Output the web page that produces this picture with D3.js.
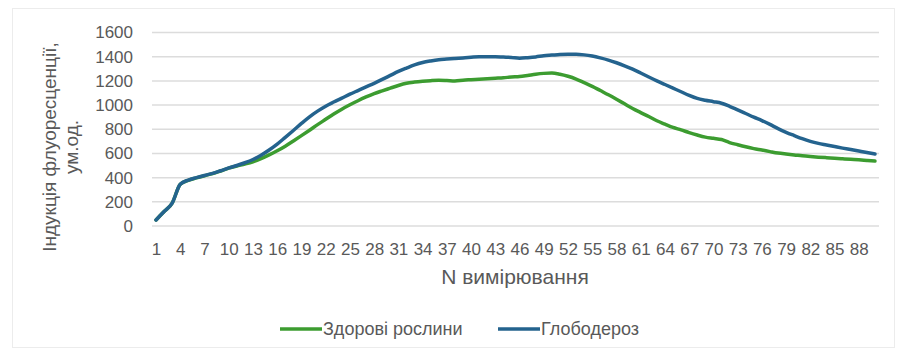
<!DOCTYPE html>
<html>
<head>
<meta charset="utf-8">
<script src="https://cdn.jsdelivr.net/npm/d3@7"></script>
<style>
  body { margin: 0; background: #fff; }
  text { font-family: "Liberation Sans", Arial, sans-serif; fill: #595959; }
</style>
</head>
<body>
<div id="line_chart"></div>
<script>
// measurement numbers 1..90
var measurements = d3.range(1, 91)

// values
var healthy = [50, 120, 190, 345, 378, 398, 416, 433, 455, 478,
  496, 512, 531, 557, 588, 622, 660, 703, 747, 792,
  838, 882, 926, 966, 1002, 1036, 1067, 1095, 1118, 1140,
  1162, 1180, 1190, 1197, 1202, 1205, 1203, 1200, 1206, 1210,
  1214, 1218, 1222, 1226, 1232, 1236, 1245, 1255, 1262, 1265,
  1255, 1238, 1215, 1185, 1155, 1120, 1085, 1048, 1010, 972,
  938, 905, 870, 842, 815, 795, 772, 752, 735, 725,
  715, 690, 672, 655, 640, 628, 615, 603, 595, 588,
  580, 574, 569, 565, 561, 556, 551, 547, 542, 537]

var globodera = [50, 120, 190, 345, 380, 400, 418, 435, 457, 480,
  500, 523, 550, 585, 628, 677, 733, 790, 848, 903,
  950, 991, 1025, 1057, 1090, 1120, 1150, 1180, 1212, 1245,
  1278, 1306, 1332, 1352, 1365, 1375, 1380, 1385, 1390, 1395,
  1399, 1399, 1400, 1397, 1394, 1388, 1392, 1398, 1408, 1413,
  1418, 1420, 1420, 1415, 1405, 1390, 1372, 1350, 1325, 1297,
  1265, 1232, 1200, 1170, 1140, 1110, 1080, 1055, 1040, 1028,
  1015, 990, 960, 930, 900, 872, 840, 805, 775, 748,
  722, 700, 683, 670, 657, 644, 632, 620, 608, 595]

var yTicks = [0, 200, 400, 600, 800, 1000, 1200, 1400, 1600]
var seriesNames = ['Здорові рослини', 'Глободероз']
var seriesColors = ['#3c9c30', '#24638e']

var W = 900, H = 356
var margin = {top: 32.5, right: 21, bottom: 130, left: 152}

var svg = d3.select("#line_chart")
  .append("svg")
    .attr("width", W)
    .attr("height", H)

// faint chart border
svg.append("rect")
  .attr("x", 12.5).attr("y", 8.5)
  .attr("width", 882).attr("height", 339)
  .attr("fill", "none")
  .attr("stroke", "#ececec")

var x = d3.scalePoint()
  .domain(measurements)
  .range([margin.left, W - margin.right])
  .padding(0.5)

var y = d3.scaleLinear()
  .domain([0, 1600])
  .range([226, margin.top])

// gridlines
svg.append("g")
  .selectAll("line")
  .data(yTicks)
  .enter()
  .append("line")
    .attr("x1", margin.left)
    .attr("x2", W - margin.right)
    .attr("y1", function(d) { return y(d) })
    .attr("y2", function(d) { return y(d) })
    .attr("stroke", "#dcdcdc")
    .attr("stroke-width", 1.5)

// Y axis
var yAxis = svg.append("g")
  .attr("transform", "translate(" + margin.left + ",0)")
  .call(d3.axisLeft(y).tickValues(yTicks).tickFormat(d3.format("d")).tickSize(0).tickPadding(19))
yAxis.select(".domain").remove()
yAxis.selectAll("text").style("font-size", "17px").attr("fill", "#595959")

// X axis
var xAxis = svg.append("g")
  .attr("transform", "translate(0," + y(0) + ")")
  .call(d3.axisBottom(x)
    .tickValues(measurements.filter(function(d) { return (d - 1) % 3 == 0 }))
    .tickSize(0).tickPadding(17))
xAxis.select(".domain").remove()
xAxis.selectAll("text").style("font-size", "17px").attr("fill", "#595959")

// axis titles
svg.append("text")
  .attr("x", 515).attr("y", 284)
  .attr("text-anchor", "middle")
  .style("font-size", "21px")
  .text("N вимірювання")

var yTitle = svg.append("text")
  .attr("transform", "translate(0,147) rotate(-90)")
  .attr("text-anchor", "middle")
  .style("font-size", "19px")
yTitle.append("tspan").attr("x", 0).attr("y", 56).text("Індукція флуоресценції,")
yTitle.append("tspan").attr("x", 0).attr("y", 78).text("ум.од.")

// lines
var line = d3.line()
  .x(function(d, i) { return x(measurements[i]) })
  .y(function(d) { return y(d) })
  .curve(d3.curveMonotoneX)

;[healthy, globodera].forEach(function(vals, k) {
  svg.append("path")
    .datum(vals)
    .attr("d", line)
    .attr("fill", "none")
    .attr("stroke", seriesColors[k])
    .attr("stroke-width", 3.5)
    .attr("stroke-linejoin", "round")
    .attr("stroke-linecap", "round")
})

// legend
var legendX = [280, 498]
var legend = svg.append("g")
seriesNames.forEach(function(name, k) {
  legend.append("line")
    .attr("x1", legendX[k]).attr("x2", legendX[k] + 42)
    .attr("y1", 329).attr("y2", 329)
    .attr("stroke", seriesColors[k])
    .attr("stroke-width", 3.5)
  legend.append("text")
    .attr("x", legendX[k] + 43).attr("y", 335)
    .style("font-size", "18px")
    .text(name)
})
</script>
</body>
</html>
